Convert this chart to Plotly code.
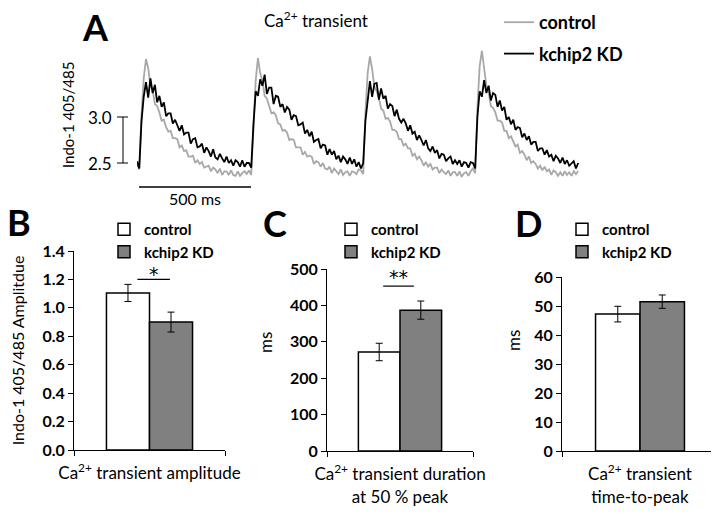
import plotly.graph_objects as go

# page is 719x520; the HTML body adds an 8 px margin, so the figure is 711x512
PAGE_OFF = 8
W, H = 719 - PAGE_OFF, 520 - PAGE_OFF
FONT = "Lato"

# ---------------- Panel A: Ca2+ transient traces (Indo-1 405/485 ratio) ----------------
sample_ms = 10

ctrl_beat1 = [2.50, 2.43, 3.02, 3.42, 3.63, 3.53, 3.34, 3.29, 3.14, 3.12,
              3.05, 2.96, 2.97, 2.89, 2.84, 2.85, 2.77, 2.77, 2.76, 2.67,
              2.69, 2.63, 2.64, 2.57, 2.57, 2.58, 2.50, 2.53, 2.49, 2.51,
              2.45, 2.46, 2.47, 2.41, 2.45, 2.43, 2.39, 2.44, 2.37, 2.41,
              2.41, 2.37, 2.42, 2.37, 2.36, 2.41, 2.36, 2.39, 2.41, 2.38]
ctrl_beat2 = [2.42, 2.37, 2.98, 3.40, 3.64, 3.48, 3.39, 3.23, 3.20, 3.13,
              3.04, 3.05, 3.02, 2.93, 2.92, 2.85, 2.86, 2.83, 2.75, 2.76,
              2.75, 2.67, 2.67, 2.67, 2.59, 2.62, 2.57, 2.58, 2.57, 2.49,
              2.52, 2.51, 2.46, 2.50, 2.44, 2.43, 2.46, 2.39, 2.44, 2.41,
              2.38, 2.43, 2.37, 2.40, 2.41, 2.36, 2.41, 2.40, 2.38, 2.43]
ctrl_beat3 = [2.42, 2.38, 3.05, 3.48, 3.66, 3.52, 3.33, 3.28, 3.21, 3.09,
              3.07, 2.98, 2.99, 2.95, 2.86, 2.86, 2.84, 2.76, 2.76, 2.69,
              2.71, 2.66, 2.66, 2.58, 2.60, 2.54, 2.57, 2.53, 2.47, 2.51,
              2.46, 2.49, 2.43, 2.45, 2.45, 2.39, 2.43, 2.40, 2.38, 2.42,
              2.36, 2.40, 2.40, 2.36, 2.41, 2.35, 2.39, 2.40, 2.36, 2.41]
ctrl_beat4 = [2.44, 2.39, 3.10, 3.55, 3.72, 3.53, 3.34, 3.27, 3.12, 3.10,
              3.05, 2.96, 2.96, 2.94, 2.85, 2.85, 2.77, 2.79, 2.74, 2.68,
              2.70, 2.61, 2.63, 2.59, 2.53, 2.57, 2.50, 2.52, 2.49, 2.44,
              2.47, 2.42, 2.46, 2.41, 2.43, 2.37, 2.42, 2.40, 2.36, 2.40,
              2.36, 2.41, 2.37, 2.40, 2.36, 2.41, 2.38, 2.41]

kd_beat1 = [2.52, 2.44, 2.95, 3.22, 3.38, 3.21, 3.42, 3.26, 3.35, 3.16,
            3.23, 3.11, 3.16, 3.01, 3.04, 3.04, 2.93, 2.97, 2.91, 2.85,
            2.91, 2.81, 2.83, 2.83, 2.71, 2.76, 2.77, 2.67, 2.68, 2.71,
            2.61, 2.67, 2.63, 2.57, 2.65, 2.56, 2.54, 2.60, 2.55, 2.51,
            2.57, 2.50, 2.53, 2.47, 2.53, 2.51, 2.46, 2.53, 2.46, 2.50]
kd_beat2 = [2.50, 2.45, 2.92, 3.28, 3.23, 3.41, 3.34, 3.46, 3.25, 3.32,
            3.32, 3.14, 3.23, 3.22, 3.11, 3.14, 3.05, 3.11, 3.08, 2.97,
            3.02, 3.01, 2.91, 2.92, 2.94, 2.82, 2.86, 2.79, 2.84, 2.73,
            2.75, 2.76, 2.66, 2.70, 2.69, 2.59, 2.65, 2.59, 2.63, 2.54,
            2.58, 2.51, 2.57, 2.54, 2.49, 2.56, 2.49, 2.54, 2.46, 2.51]
kd_beat3 = [2.44, 2.50, 2.96, 3.20, 3.39, 3.22, 3.36, 3.37, 3.19, 3.31,
            3.20, 3.23, 3.09, 3.14, 3.12, 3.01, 3.08, 2.98, 2.94, 2.98,
            2.93, 2.85, 2.91, 2.82, 2.84, 2.75, 2.80, 2.75, 2.69, 2.75,
            2.66, 2.63, 2.68, 2.61, 2.64, 2.55, 2.60, 2.59, 2.52, 2.55,
            2.57, 2.49, 2.53, 2.49, 2.53, 2.46, 2.51, 2.50, 2.45, 2.51]
kd_beat4 = [2.50, 2.44, 3.00, 3.28, 3.22, 3.40, 3.26, 3.34, 3.18, 3.26,
            3.24, 3.11, 3.18, 3.07, 3.11, 2.97, 3.00, 2.92, 2.97, 2.86,
            2.89, 2.88, 2.78, 2.82, 2.75, 2.79, 2.70, 2.73, 2.73, 2.63,
            2.66, 2.66, 2.59, 2.64, 2.57, 2.59, 2.52, 2.58, 2.55, 2.50,
            2.56, 2.49, 2.53, 2.47, 2.50, 2.52, 2.44, 2.50]

control_trace = ctrl_beat1 + ctrl_beat2 + ctrl_beat3 + ctrl_beat4
kd_trace = kd_beat1 + kd_beat2 + kd_beat3 + kd_beat4
time_ms = [i * sample_ms for i in range(len(control_trace))]

scale_bar_ms = [9, 509]          # 500 ms time scale bar
scale_bar_ratio = [2.5, 3.0]     # ratio scale bar
scale_tick_labels = ["2.5", "3.0"]

# ---------------- Panels B-D: bar charts ----------------
groups = ["control", "kchip2 KD"]
amp_mean = [1.105, 0.90]
amp_err = [0.06, 0.07]
dur_mean = [272, 387]
dur_err = [24, 25]
ttp_mean = [47.2, 51.5]
ttp_err = [2.7, 2.3]

cat_B = ["Ca<sup>2+</sup> transient amplitude"]
cat_C = ["Ca<sup>2+</sup> transient duration<br>at 50 % peak"]
cat_D = ["Ca<sup>2+</sup> transient<br>time-to-peak"]

bar_colors = ["#ffffff", "#808080"]


def px(x):
    """page pixel x -> paper fraction"""
    return (x - PAGE_OFF) / W


def py(y):
    """page pixel y -> paper fraction"""
    return 1 - (y - PAGE_OFF) / H


fig = go.Figure()

fig.add_trace(go.Scatter(x=time_ms, y=control_trace, mode="lines", name="control",
                         line=dict(color="#a8a8a8", width=1.8), legend="legend",
                         legendgroup="c", xaxis="x", yaxis="y"))
fig.add_trace(go.Scatter(x=time_ms, y=kd_trace, mode="lines", name="kchip2 KD",
                         line=dict(color="#000000", width=1.8), legend="legend",
                         legendgroup="k", xaxis="x", yaxis="y"))

panels = [
    ("2", cat_B, amp_mean, amp_err, "legend2"),
    ("3", cat_C, dur_mean, dur_err, "legend3"),
    ("4", cat_D, ttp_mean, ttp_err, "legend4"),
]
for ax, cat, means, errs, leg in panels:
    for g, m, e, c in zip(groups, means, errs, bar_colors):
        fig.add_trace(go.Bar(
            x=cat, y=[m], name=g, legend=leg,
            marker=dict(color=c, line=dict(color="black", width=1.5)),
            error_y=dict(type="data", array=[e], color="black", thickness=1, width=3.5),
            xaxis="x" + ax, yaxis="y" + ax))

tickfont_bold = dict(family=FONT, size=16, color="black", weight="bold")
xtickfont = dict(family=FONT, size=17, color="black")


def bar_xaxis(x0, x1, anchor):
    return dict(domain=[px(x0), px(x1)], anchor=anchor, type="category", range=[-0.5, 0.5],
                showline=True, linecolor="black", linewidth=1, ticks="outside",
                tickson="boundaries", ticklen=5, tickcolor="black", tickfont=xtickfont,
                ticklabelstandoff=8, tickangle=0, automargin=False,
                showgrid=False, zeroline=False, fixedrange=True)


def bar_yaxis(ytop, ybot, anchor, rng, dtick, fmt):
    return dict(domain=[py(ybot), py(ytop)], anchor=anchor, range=rng, dtick=dtick,
                tickformat=fmt, showline=True, linecolor="black", linewidth=1,
                ticks="outside", ticklen=5, tickcolor="black", tickfont=tickfont_bold,
                automargin=False, showgrid=False, zeroline=False)


legend_bar = dict(xanchor="left", yanchor="top", traceorder="normal",
                  bgcolor="rgba(0,0,0,0)",
                  font=dict(family=FONT, size=15, color="black", weight="bold"))

fig.update_layout(
    width=W, height=H, margin=dict(l=0, r=0, t=0, b=0, autoexpand=False),
    paper_bgcolor="white", plot_bgcolor="rgba(0,0,0,0)",
    font=dict(family=FONT, color="black"),
    barmode="group", bargap=0.43, bargroupgap=0,
    xaxis=dict(domain=[px(137), px(582)], range=[0, 1987], visible=False, anchor="y",
               automargin=False),
    yaxis=dict(domain=[py(190), py(40)], range=[2.2065, 3.837], visible=False, anchor="x",
               automargin=False),
    xaxis2=bar_xaxis(74, 225, "y2"),
    yaxis2={**bar_yaxis(251, 450, "x2", [0, 1.4], 0.2, ".1f"),
            "title": dict(text="Indo-1 405/485 Amplitdue", font=dict(family=FONT, size=16),
                          standoff=13)},
    xaxis3=bar_xaxis(327, 473, "y3"),
    yaxis3=bar_yaxis(269, 451, "x3", [0, 500], 100, "d"),
    xaxis4=bar_xaxis(562, 718, "y4"),
    yaxis4=bar_yaxis(277, 451, "x4", [0, 60], 10, "d"),
    legend=dict(x=px(499), y=py(4), xanchor="left", yanchor="top", traceorder="grouped",
                tracegroupgap=5, bgcolor="rgba(0,0,0,0)",
                font=dict(family=FONT, size=18, color="black", weight="bold")),
    legend2={**legend_bar, "x": px(104), "y": py(213)},
    legend3={**legend_bar, "x": px(331), "y": py(213)},
    legend4={**legend_bar, "x": px(562), "y": py(213)},
)

shapes = []
# vertical ratio scale bar with end ticks
shapes.append(dict(type="line", xref="paper", yref="y", x0=px(123), x1=px(123),
                   y0=scale_bar_ratio[0], y1=scale_bar_ratio[1], line=dict(color="black", width=1)))
for v in scale_bar_ratio:
    shapes.append(dict(type="line", xref="paper", yref="y", x0=px(117), x1=px(128),
                       y0=v, y1=v, line=dict(color="black", width=1)))
# horizontal time scale bar
shapes.append(dict(type="line", xref="x", yref="paper", x0=scale_bar_ms[0], x1=scale_bar_ms[1],
                   y0=py(187), y1=py(187), line=dict(color="black", width=1.5)))
# significance bars
shapes.append(dict(type="line", xref="x2", yref="y2", x0=-0.08, x1=0.135, y0=1.20, y1=1.20,
                   line=dict(color="black", width=1.2)))
shapes.append(dict(type="line", xref="x3", yref="y3", x0=-0.115, x1=0.095, y0=453, y1=453,
                   line=dict(color="black", width=1.2)))
fig.update_layout(shapes=shapes)

ann = []
for v, t in zip(scale_bar_ratio, scale_tick_labels):
    ann.append(dict(xref="paper", yref="y", x=px(114), y=v, text=t, showarrow=False,
                    xanchor="right", yanchor="middle", font=dict(family=FONT, size=17)))
ann.append(dict(xref="x", yref="paper", x=(scale_bar_ms[0] + scale_bar_ms[1]) / 2, y=py(198),
                text=f"{scale_bar_ms[1] - scale_bar_ms[0]} ms", showarrow=False,
                xanchor="center", yanchor="middle", font=dict(family=FONT, size=16)))
ann.append(dict(xref="paper", yref="paper", x=px(68), y=py(115), text="Indo-1 405/485",
                textangle=-90, showarrow=False, xanchor="center", yanchor="middle",
                font=dict(family=FONT, size=15)))
ann.append(dict(xref="paper", yref="paper", x=px(316), y=py(19),
                text="Ca<sup>2+</sup> transient", showarrow=False, xanchor="center",
                yanchor="middle", font=dict(family=FONT, size=17)))
for letter, x, y in [("A", 95, 27), ("B", 19, 222), ("C", 275, 223), ("D", 528, 223)]:
    ann.append(dict(xref="paper", yref="paper", x=px(x), y=py(y), text=letter, showarrow=False,
                    xanchor="center", yanchor="middle",
                    font=dict(family=FONT, size=36, weight="bold", color="black")))
for x, y in [(265, 343), (513, 340)]:
    ann.append(dict(xref="paper", yref="paper", x=px(x), y=py(y), text="ms", textangle=-90,
                    showarrow=False, xanchor="center", yanchor="middle",
                    font=dict(family=FONT, size=17, color="black")))
ann.append(dict(xref="x2", yref="y2", x=0.03, y=1.24, text="*", showarrow=False,
                font=dict(family="DejaVu Sans", size=19, color="#000000")))
ann.append(dict(xref="x3", yref="y3", x=-0.01, y=478, text="**", showarrow=False,
                font=dict(family="DejaVu Sans", size=19, color="#000000")))
fig.update_layout(annotations=ann)

fig.write_html("out.html")
